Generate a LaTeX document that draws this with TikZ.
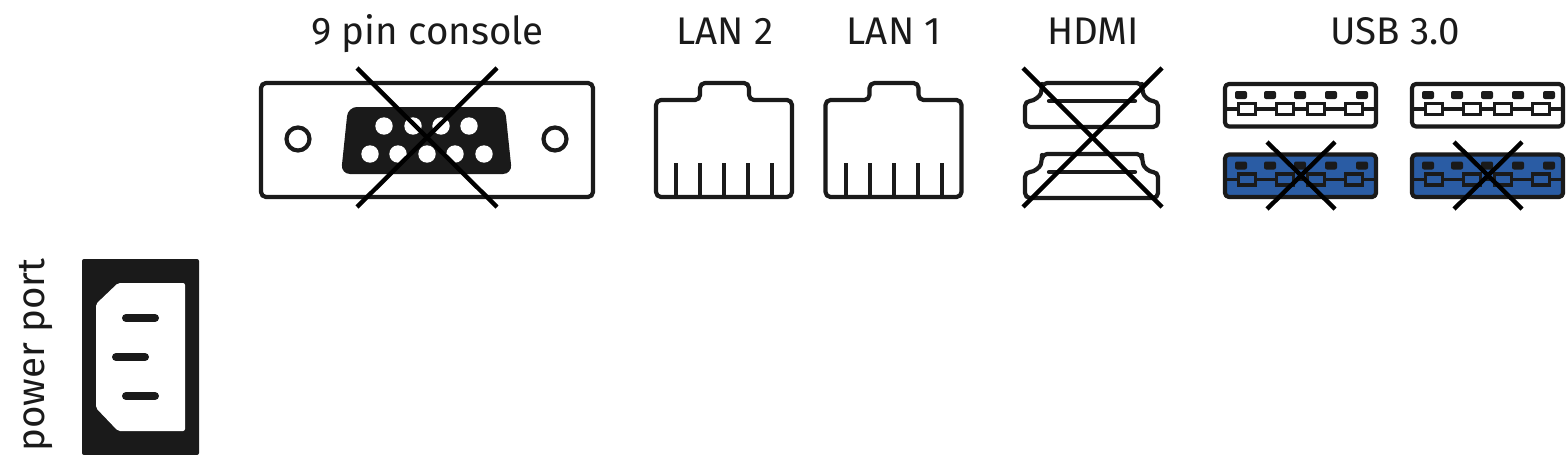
\documentclass[tikz,border=0pt]{standalone}
\usepackage{fontspec}
\setmainfont{Fira Sans}
\definecolor{portdark}{HTML}{1A1A1A}
\definecolor{portblue}{HTML}{2A5CA4}
\tikzset{
	portline/.style={draw=portdark,line width=4.2pt,line join=round},
	crossline/.style={draw=black,line width=4.4pt},
	portlabel/.style={font=\fontsize{38.5}{38.5}\selectfont,text=portdark,inner sep=0pt},
	usbpin/.style={fill=portdark,rounded corners=2pt},
	usbport/.pic={
		\draw[portline,fill=#1,rounded corners=4pt] (0,0) rectangle (151,42.5);
		\foreach \pinx in {16,45,75,106,137}
			\fill[usbpin] (\pinx-6,7) rectangle (\pinx+6,15);
		\draw[portdark,line width=3.4pt] (0,25) -- (151,25);
		\foreach \boxx in {22,60,91,129}
			\draw[portdark,line width=3.4pt,fill=#1] (\boxx-8.5,19.5) rectangle (\boxx+8.5,30.5);
	},
	lanport/.pic={
		\draw[portline,rounded corners=5pt] (0,0) -- (44,0) -- (44,-17) -- (93,-17) -- (93,0) -- (136,0) -- (136,97) -- (0,97) -- cycle;
		\foreach \pinx in {20,44,68,92,116}
			\draw[portline,line width=4pt] (\pinx,63) -- (\pinx,97);
	},
	hdmiport/.pic={
		\draw[portline,rounded corners=5pt] (17,0) -- (117,0) -- (117,6) .. controls (119,13) and (124,18) .. (133,18) -- (133,44) -- (0,44) -- (0,18) .. controls (9,18) and (15,13) .. (17,6) -- cycle;
		\draw[portline,line cap=round] (24,18) -- (110,18);
	},
}
\begin{document}
\begin{tikzpicture}[x=1pt,y=-1pt]
	\useasboundingbox (0,0) rectangle (1566,455);

	% labels
	\node [portlabel,anchor=base] (console) at (427.5,44) {9 pin console};
	\node [portlabel,anchor=base] (lantwo) at (725,44) {LAN 2};
	\node [portlabel,anchor=base] (lanone) at (894,44) {LAN 1};
	\node [portlabel,anchor=base] (hdmi) at (1093,44) {HDMI};
	\node [portlabel,anchor=base] (usb) at (1395,44) {USB 3.0};
	\node [portlabel,anchor=base,rotate=90] (power) at (44,355) {power port};

	% console
	\draw[portline,rounded corners=5pt] (261,83) rectangle (593,197);
	\draw[portline] (298,139) circle (11.5);
	\draw[portline] (555,139) circle (11.5);
	\fill[portdark,rounded corners=9pt] (348,107) -- (505,107) -- (512,174) -- (341,174) -- cycle;
	\foreach \pinx in {384,413,441,469}
		\fill[white] (\pinx,126) circle (8.7);
	\foreach \pinx in {370,398,427,455,484}
		\fill[white] (\pinx,154) circle (8.7);
	\draw[crossline] (357,68) -- (497,207);
	\draw[crossline] (497,68) -- (357,207);

	% lan
	\pic at (656,100) {lanport};
	\pic at (825.5,100) {lanport};

	% hdmi
	\pic at (1025,83) {hdmiport};
	\pic at (1025,154) {hdmiport};
	\draw[crossline] (1023,68) -- (1162,207);
	\draw[crossline] (1162,68) -- (1023,207);

	% usb
	\pic at (1225,84) {usbport=white};
	\pic at (1412,84) {usbport=white};
	\pic at (1225,154.5) {usbport=portblue};
	\pic at (1412,154.5) {usbport=portblue};
	\draw[crossline] (1267,142) -- (1335,209);
	\draw[crossline] (1335,142) -- (1267,209);
	\draw[crossline] (1454,142) -- (1522,209);
	\draw[crossline] (1522,142) -- (1454,209);

	% power
	\fill[portdark,rounded corners=2pt] (82,259) rectangle (199,455);
	\fill[white,rounded corners=2pt] (118,283) -- (185,283) -- (185,431) -- (118,431) -- (96,408) -- (96,304) -- cycle;
	\draw[portdark,line width=8pt,line cap=round] (126,318) -- (155,318);
	\draw[portdark,line width=8pt,line cap=round] (116,357) -- (145,357);
	\draw[portdark,line width=8pt,line cap=round] (126,396) -- (155,396);
\end{tikzpicture}
\end{document}
